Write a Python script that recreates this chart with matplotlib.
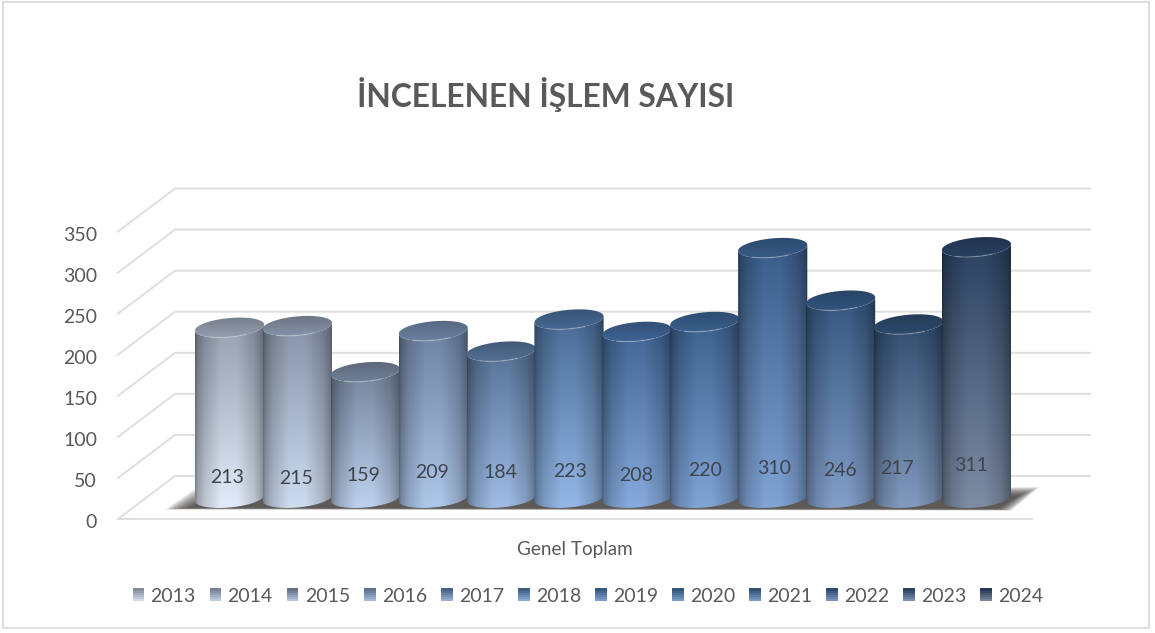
import numpy as np
import matplotlib
matplotlib.use("Agg")
import matplotlib.pyplot as plt
from matplotlib.path import Path
from matplotlib.patches import PathPatch, Rectangle
from matplotlib.legend_handler import HandlerBase
from matplotlib.transforms import ScaledTranslation

years = ['2013','2014','2015','2016','2017','2018','2019','2020','2021','2022','2023','2024']
values = [213,215,159,209,184,223,208,220,310,246,217,311]
y_ticks = [0,50,100,150,200,250,300,350]
category = 'Genel Toplam'
title = 'İNCELENEN İŞLEM SAYISI'

top_cols = [(148,156,174),(132,144,164),(112,127,150),(106,127,158),(82,110,146),(70,104,146),
            (62,98,146),(56,94,138),(55,90,134),(50,84,124),(45,74,108),(40,64,96)]
bot_cols = [(228,237,250),(208,222,242),(192,212,242),(176,201,236),(160,190,232),(150,185,232),
            (136,172,222),(130,166,216),(130,165,215),(132,160,202),(132,156,192),(128,142,166)]
label_dx = [-2,-1,-2,-1,-1,1,-1,0,1,-1,-11,-5]
label_dy = [3,2,5,8,8,9,5,10,12,10,12,15]

W, H = 1155, 633
fig = plt.figure(figsize=(W/100, H/100), dpi=100, facecolor='white')
plt.rcParams['font.family'] = ['Lato', 'DejaVu Sans']
L, R, B, T = 118, 1032, 519, 231.5
ax = fig.add_axes([L/W, 1-B/H, (R-L)/W, (B-T)/H])
STEP = 67.9
X0 = 229.5
ax.set_xlim((L-X0)/STEP, (R-X0)/STEP)
ax.set_ylim(0, 350)
PX = (B-T)/350.0
for s in ax.spines.values():
    s.set_visible(False)
ax.patch.set_visible(False)

def dx(px): return px/STEP
def dy(px): return px/PX

GRID = '#dedede'
xl, xb, xr = (L-X0)/STEP, (175-X0)/STEP, (1090-X0)/STEP
depth = dy(43)
for v in y_ticks:
    ax.plot([xl, xb, xr], [v, v+depth, v+depth], color=GRID, lw=1.4, clip_on=False, zorder=1)
ax.plot([xl, (R-X0)/STEP], [0, 0], color=GRID, lw=1.4, clip_on=False, zorder=1)

ax.set_yticks(y_ticks)
ax.set_xticks([(575-X0)/STEP])
ax.set_xticklabels([category])
ax.tick_params(axis='y', length=0, pad=15, labelsize=14, labelcolor='#595959')
ax.tick_params(axis='x', length=0, pad=16, labelsize=13.6, labelcolor='#595959')
shift = ScaledTranslation(0, -2.5/72*0.72, fig.dpi_scale_trans)
for lab in ax.get_yticklabels():
    lab.set_transform(lab.get_transform() + shift)

# soft floor shadow: stacked translucent layers that shrink inward
n = len(values)
sx0, sx1 = -0.95, n-1+0.93
for k in range(24):
    ins = k*0.75
    sh = [(sx0+dx(ins*1.5), dy(9.5+ins*0.10)), (sx0+dx(28+ins*1.1), dy(29-ins*0.55)),
          (sx1-dx(ins*1.3), dy(32-ins*0.55)), (sx1-dx(28+ins*0.9), dy(8.5+ins*0.10))]
    ax.fill([p[0] for p in sh], [p[1] for p in sh], color='#3d3935', alpha=0.065, lw=0,
            clip_on=False, zorder=2)

BASE = dy(21)
TOPOFF = dy(16.5)
HW = 34.6
EB = 9.5
SK = 3.0
u = np.linspace(-1, 1, 140)
shade = np.interp(u, [-1, -.93, -.72, -.25, .2, .7, .93, 1], [.56, .70, .84, 1, 1, .84, .68, .54])

for i, (v, tc, bc) in enumerate(zip(values, top_cols, bot_cols)):
    z = 3+i*0.1
    ytop = v + TOPOFF
    t = np.linspace(0, np.pi, 60)
    bx = i + dx(HW)*np.cos(t)
    by_front_top = ytop - dy(EB)*np.sin(t) + dy(SK)*np.cos(t)
    by_front_bot = BASE - dy(EB)*np.sin(t) + dy(SK)*np.cos(t)
    tt = np.r_[np.c_[bx, by_front_bot], np.c_[bx[::-1], by_front_top[::-1]], [[bx[0], by_front_bot[0]]]]
    clip = PathPatch(Path(tt, closed=True), transform=ax.transData, fc='none', ec='none')
    ax.add_patch(clip)
    g = np.linspace(0, 1, 200)[:, None, None]
    tca = np.array(tc)[None, None, :]/255
    bca = np.array(bc)[None, None, :]/255
    img = (tca*(1-g) + bca*g) * shade[None, :, None]
    im = ax.imshow(np.clip(img, 0, 1), extent=[i-dx(HW), i+dx(HW), BASE-dy(EB+4), ytop+dy(EB)],
                   aspect='auto', origin='upper', zorder=z, interpolation='bilinear')
    im.set_clip_path(clip)
    t2 = np.linspace(0, 2*np.pi, 120)
    ex = i + dx(HW)*np.cos(t2)
    ey = ytop + dy(EB)*np.sin(t2) + dy(SK)*np.cos(t2)
    cap = PathPatch(Path(np.c_[ex, ey], closed=True), transform=ax.transData, fc='none', ec='none')
    ax.add_patch(cap)
    g2 = np.linspace(0, 1, 40)[:, None, None]
    c1 = tca*0.78
    c2 = np.clip(tca*1.04, 0, 1)
    cimg = (c1*(1-g2) + c2*g2)
    im2 = ax.imshow(cimg, extent=[i-dx(HW), i+dx(HW), ytop-dy(EB+4), ytop+dy(EB+4)], aspect='auto',
                    origin='upper', zorder=z+0.01, interpolation='bilinear')
    im2.set_clip_path(cap)
    t3 = np.linspace(np.pi*1.3, np.pi*1.65, 30)
    ax.plot(i+dx(HW)*np.cos(t3), ytop+dy(EB)*np.sin(t3)+dy(SK)*np.cos(t3), color='white', alpha=.22,
            lw=1.0, zorder=z+0.02, clip_on=False)
    ax.annotate(str(v), (i, 50), xytext=(label_dx[i]*.72, label_dy[i]*.72-3*.72), textcoords='offset points',
                ha='center', va='center', fontsize=14, color='#3f444c', zorder=10, annotation_clip=False)

ax.set_xlim((L-X0)/STEP, (R-X0)/STEP)
ax.set_ylim(0, 350)

class GradHandler(HandlerBase):
    def __init__(self, top, bot):
        super().__init__()
        self.top, self.bot = np.array(top)/255*0.9, np.array(bot)/255*0.92
    def create_artists(self, legend, orig, xd, yd, width, height, fontsize, trans):
        out = []
        m = 6
        for j in range(m):
            f = j/(m-1)
            c = self.top*(1-f) + self.bot*f
            out.append(Rectangle((-xd, -yd+height*(1-(j+1)/m)), width, height/m, fc=c, ec='none', transform=trans))
        return out

handles = [Rectangle((0, 0), 1, 1) for _ in years]
hmap = {h: GradHandler(tc, bc) for h, tc, bc in zip(handles, top_cols, bot_cols)}
leg = fig.legend(handles, years, handler_map=hmap, ncol=12, loc='center', bbox_to_anchor=(588/W, 1-596/H),
                 frameon=False, fontsize=14, labelcolor='#595959', handlelength=0.6, handleheight=0.6,
                 handletextpad=0.32, columnspacing=0.72, borderpad=0, borderaxespad=0)

fig.text(546/W, 1-94/H, title, ha='center', va='center', fontsize=22.9, fontweight='bold', color='#595959')
fig.add_artist(Rectangle((3/W, 1-628/H), 1146/W, 626/H, transform=fig.transFigure, fc='none', ec='#d9d9d9', lw=1.2))

fig.savefig('out.png', dpi=100, facecolor='white')
